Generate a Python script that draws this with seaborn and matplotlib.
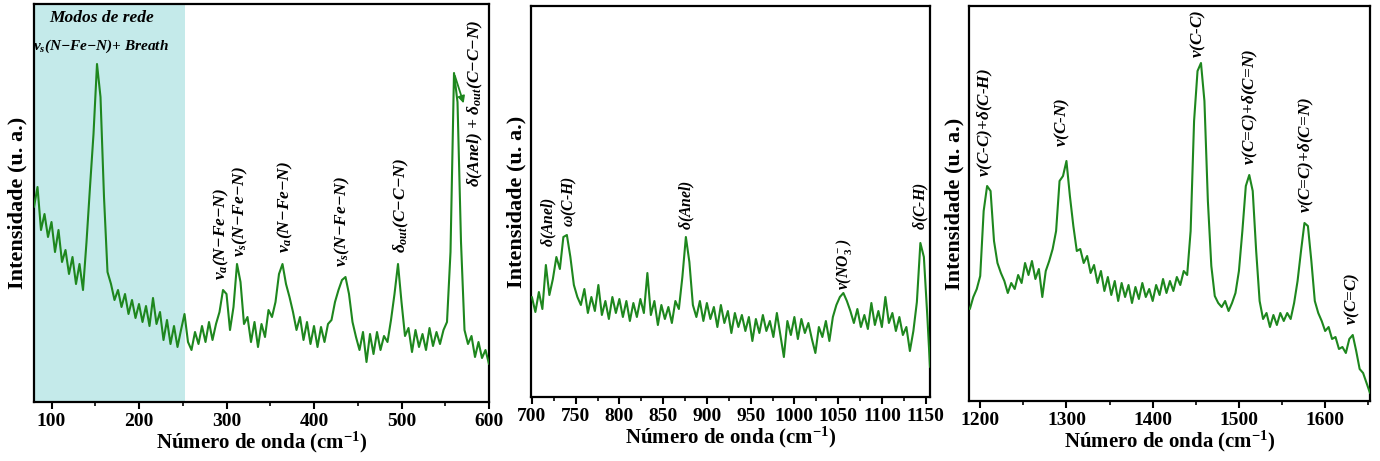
import numpy as np
import pandas as pd
import matplotlib
matplotlib.use("Agg")
import matplotlib.pyplot as plt
import seaborn as sns
from matplotlib.ticker import MultipleLocator

# ---------------- data ----------------
wn_low = [80, 84, 88, 92, 96, 100, 104, 108, 112, 116, 120, 124, 128, 132, 136, 140, 144, 148, 152, 156,
          160, 164, 168, 172, 176, 180, 184, 188, 192, 196, 200, 204, 208, 212, 216, 220, 224, 228, 232, 236,
          240, 244, 248, 252, 256, 260, 264, 268, 272, 276, 280, 284, 288, 292, 296, 300, 304, 308, 312, 316,
          320, 324, 328, 332, 336, 340, 344, 348, 352, 356, 360, 364, 368, 372, 376, 380, 384, 388, 392, 396,
          400, 404, 408, 412, 416, 420, 424, 428, 432, 436, 440, 444, 448, 452, 456, 460, 464, 468, 472, 476,
          480, 484, 488, 492, 496, 500, 504, 508, 512, 516, 520, 524, 528, 532, 536, 540, 544, 548, 552, 556,
          560, 564, 568, 572, 576, 580, 584, 588, 592, 596, 600]
int_low = [195, 215, 172, 188, 165, 180, 150, 172, 140, 152, 128, 145, 118, 138, 112, 160, 215, 268, 338, 305,
           205, 130, 118, 102, 112, 95, 108, 88, 102, 84, 98, 80, 96, 76, 104, 78, 90, 62, 82, 58,
           76, 55, 72, 88, 60, 52, 70, 58, 76, 60, 80, 62, 78, 90, 112, 108, 72, 95, 138, 120,
           78, 85, 60, 80, 55, 78, 65, 92, 85, 100, 128, 138, 118, 105, 90, 72, 85, 62, 80, 58,
           76, 55, 75, 60, 78, 82, 100, 112, 122, 125, 108, 80, 65, 52, 70, 40, 68, 48, 70, 52,
           66, 60, 82, 108, 138, 100, 66, 74, 50, 72, 55, 68, 52, 74, 56, 70, 58, 72, 80, 150,
           329, 300, 160, 72, 58, 66, 45, 60, 44, 52, 38]

wn_mid = [700, 704, 708, 712, 716, 720, 724, 728, 732, 736, 740, 744, 748, 752, 756, 760, 764, 768, 772, 776,
          780, 784, 788, 792, 796, 800, 804, 808, 812, 816, 820, 824, 828, 832, 836, 840, 844, 848, 852, 856,
          860, 864, 868, 872, 876, 880, 884, 888, 892, 896, 900, 904, 908, 912, 916, 920, 924, 928, 932, 936,
          940, 944, 948, 952, 956, 960, 964, 968, 972, 976, 980, 984, 988, 992, 996, 1000, 1004, 1008, 1012, 1016,
          1020, 1024, 1028, 1032, 1036, 1040, 1044, 1048, 1052, 1056, 1060, 1064, 1068, 1072, 1076, 1080, 1084, 1088, 1092, 1096,
          1100, 1104, 1108, 1112, 1116, 1120, 1124, 1128, 1132, 1136, 1140, 1144, 1148, 1152, 1155]
int_mid = [100, 85, 105, 88, 132, 102, 118, 140, 128, 160, 162, 140, 112, 100, 92, 108, 84, 100, 86, 112,
           82, 96, 78, 100, 84, 98, 80, 96, 76, 94, 80, 98, 84, 124, 82, 96, 72, 92, 78, 90,
           74, 96, 88, 120, 160, 135, 92, 80, 96, 76, 94, 78, 90, 70, 92, 74, 86, 64, 84, 70,
           82, 66, 80, 56, 78, 64, 82, 66, 76, 60, 84, 62, 40, 76, 62, 80, 58, 78, 64, 74,
           58, 44, 70, 60, 76, 56, 80, 92, 100, 104, 96, 86, 74, 88, 70, 82, 68, 94, 72, 86,
           70, 100, 74, 84, 66, 80, 62, 70, 46, 66, 95, 154, 140, 80, 30]

wn_high = [1188, 1192, 1196, 1200, 1204, 1208, 1212, 1216, 1220, 1224, 1228, 1232, 1236, 1240, 1244, 1248, 1252, 1256, 1260, 1264,
           1268, 1272, 1276, 1280, 1284, 1288, 1292, 1296, 1300, 1304, 1308, 1312, 1316, 1320, 1324, 1328, 1332, 1336, 1340, 1344,
           1348, 1352, 1356, 1360, 1364, 1368, 1372, 1376, 1380, 1384, 1388, 1392, 1396, 1400, 1404, 1408, 1412, 1416, 1420, 1424,
           1428, 1432, 1436, 1440, 1444, 1448, 1452, 1456, 1460, 1464, 1468, 1472, 1476, 1480, 1484, 1488, 1492, 1496, 1500, 1504,
           1508, 1512, 1516, 1520, 1524, 1528, 1532, 1536, 1540, 1544, 1548, 1552, 1556, 1560, 1564, 1568, 1572, 1576, 1580, 1584,
           1588, 1592, 1596, 1600, 1604, 1608, 1612, 1616, 1620, 1624, 1628, 1632, 1636, 1640, 1644, 1648, 1652]
int_high = [92, 104, 112, 125, 190, 215, 210, 160, 138, 128, 120, 108, 118, 112, 126, 118, 138, 126, 140, 122,
            132, 104, 130, 140, 152, 170, 220, 225, 240, 205, 175, 150, 152, 138, 145, 128, 136, 118, 130, 110,
            124, 106, 120, 100, 118, 104, 116, 98, 114, 102, 118, 104, 112, 100, 116, 106, 122, 108, 120, 110,
            124, 116, 130, 126, 170, 280, 330, 338, 300, 200, 135, 105, 98, 94, 100, 90, 98, 108, 130, 170,
            215, 226, 210, 150, 100, 82, 88, 74, 86, 76, 88, 80, 88, 82, 98, 120, 150, 178, 175, 140,
            100, 88, 80, 70, 74, 62, 64, 52, 54, 48, 62, 66, 50, 32, 28, 18, 8]

# band labels: (text, wavenumber, bottom intensity)
labels_low = [(r"$\nu_a$(N−Fe−N)", 294, 122), (r"$\nu_s$(N−Fe−N)", 316, 145),
              (r"$\nu_a$(N−Fe−N)", 367, 149), (r"$\nu_s$(N−Fe−N)", 433, 135),
              (r"$\delta_{out}$(C−C−N)", 500, 149), (r"$\delta$(Anel) + $\delta_{out}$(C−C−N)", 584, 215)]
labels_mid = [(r"$\delta$(Anel)", 720, 150), (r"$\omega$(C-H)", 743, 170), (r"$\delta$(Anel)", 878, 167),
              (r"$\nu$(NO$_3^-$)", 1057, 107), (r"$\delta$(C-H)", 1145, 167)]
labels_high = [(r"$\nu$(C-C)+$\delta$(C-H)", 1206, 224), (r"$\nu$(C-N)", 1295, 254), (r"$\nu$(C-C)", 1453, 343),
               (r"$\nu$(C=C)+$\delta$(C=N)", 1513, 236), (r"$\nu$(C=C)+$\delta$(C=N)", 1578, 188),
               (r"$\nu$(C=C)", 1632, 76)]

# ---------------- style ----------------
sns.set_style("white")
plt.rcParams["font.family"] = ["Liberation Serif", "DejaVu Serif"]
plt.rcParams["font.weight"] = "bold"
plt.rcParams["text.color"] = "black"
plt.rcParams["axes.labelcolor"] = "black"
plt.rcParams["xtick.color"] = "black"
plt.rcParams["mathtext.fontset"] = "custom"
plt.rcParams["mathtext.rm"] = "Liberation Serif:bold"
plt.rcParams["mathtext.it"] = "Liberation Serif:italic:bold"
plt.rcParams["mathtext.bf"] = "Liberation Serif:bold"

GREEN = "#1e871e"
fig = plt.figure(figsize=(13.8, 4.61), dpi=100)
W, H = 1380, 461
def axrect(l, t, r, b):
    return [l / W, 1 - b / H, (r - l) / W, (b - t) / H]

ax1 = fig.add_axes(axrect(34, 4, 489, 402))
ax2 = fig.add_axes(axrect(531, 6, 930, 397))
ax3 = fig.add_axes(axrect(969, 6, 1370, 401))

df1 = pd.DataFrame({"wn": wn_low, "I": int_low})
df2 = pd.DataFrame({"wn": wn_mid, "I": int_mid})
df3 = pd.DataFrame({"wn": wn_high, "I": int_high})

ax1.axvspan(80, 252, color="#c4eaea", zorder=0, lw=0)
for ax, df in [(ax1, df1), (ax2, df2), (ax3, df3)]:
    sns.lineplot(data=df, x="wn", y="I", ax=ax, color=GREEN, lw=1.5, zorder=3)

ax1.set_xlim(80, 600); ax1.set_ylim(0, 398)
ax2.set_xlim(699, 1155); ax2.set_ylim(0, 391)
ax3.set_xlim(1187, 1652); ax3.set_ylim(0, 395)

ax1.xaxis.set_major_locator(MultipleLocator(100)); ax1.xaxis.set_minor_locator(MultipleLocator(50))
ax2.xaxis.set_major_locator(MultipleLocator(50)); ax2.xaxis.set_minor_locator(MultipleLocator(25))
ax3.xaxis.set_major_locator(MultipleLocator(100)); ax3.xaxis.set_minor_locator(MultipleLocator(50))

for ax, pad in [(ax1, 5), (ax2, 3), (ax3, 3)]:
    ax.set_yticks([])
    ax.tick_params(axis="x", which="major", direction="out", length=5, width=1.5, labelsize=14, pad=3,
                   bottom=True, colors="black")
    ax.tick_params(axis="x", which="minor", direction="out", length=3, width=1.2, bottom=True)
    for lab in ax.get_xticklabels():
        lab.set_fontweight("bold")
    for s in ax.spines.values():
        s.set_visible(True); s.set_linewidth(1.6); s.set_color("black")
    ax.set_xlabel("Número de onda (cm$^{-1}$)", fontsize=15, fontweight="bold", labelpad=0)
    ax.set_ylabel("Intensidade (u. a.)", fontsize=16, fontweight="bold", labelpad=pad)

for ax, labs, fs in [(ax1, labels_low, 12.5), (ax2, labels_mid, 11.3), (ax3, labels_high, 12.3)]:
    for txt, x, y in labs:
        ax.text(x, y, txt, rotation=90, ha="center", va="bottom", fontsize=fs,
                fontstyle="italic", fontweight="bold", zorder=5)

ax1.text(157, 384, "Modos de rede", ha="center", va="center", fontsize=12.5,
         fontstyle="italic", fontweight="bold")
ax1.text(157, 356, r"$\nu_s$(N−Fe−N)+ Breath", ha="center", va="center", fontsize=11,
         fontstyle="italic", fontweight="bold")
ax1.annotate("", xy=(572, 296), xytext=(560, 329),
             arrowprops=dict(arrowstyle="-|>", color=GREEN, lw=1.3, mutation_scale=10))

fig.savefig("out.png", dpi=100)
